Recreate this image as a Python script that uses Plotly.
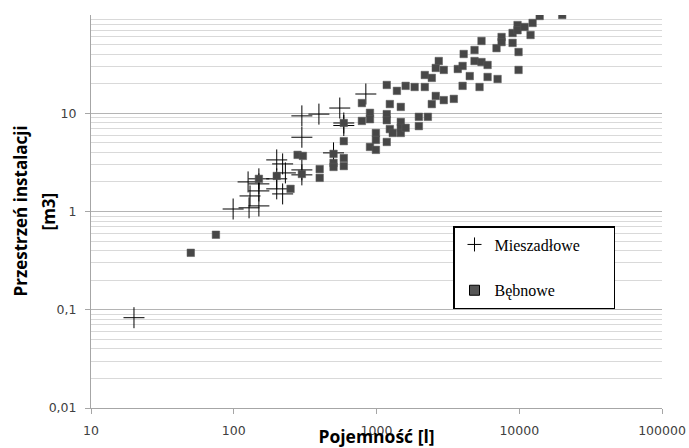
import plotly.graph_objects as go

# Mieszadłowe (crosses)
mix_x = [20, 99, 128, 150, 130, 150, 150, 126, 150, 200, 220, 230, 200, 200, 220,
         300, 300, 300, 300, 395, 500, 553, 590, 590, 842]
mix_y = [0.083, 1.06, 1.09, 1.14, 1.44, 1.62, 1.91, 2.0, 2.15, 3.35, 3.05, 2.47, 2.15, 1.7, 1.51,
         9.4, 5.7, 2.65, 2.36, 9.8, 3.95, 11.3, 7.96, 7.5, 15.7]

# Bębnowe (squares)
drum_x = [50, 75, 150, 200, 250, 280, 305, 300, 400, 400, 500, 500, 500, 590, 590, 590, 590,
          790, 790, 900, 900, 900, 990, 990, 990, 1180, 1180, 1180, 1180, 1240, 1240, 1300,
          1390, 1480, 1480, 1480, 1480, 1600, 1600, 1850, 1980, 1980, 2180, 2180, 2290, 2440,
          2440, 2600, 2600, 2730, 2960, 2960, 3480, 3710, 4010, 4010, 4080, 4500, 4860, 4860,
          5440, 5270, 5440, 6000, 6000, 6930, 7050, 7520, 7520, 8980, 8980, 9730, 9730, 9890,
          9890, 10900, 12000, 12400, 13900, 20000]
drum_y = [0.38, 0.58, 2.15, 2.3, 1.7, 3.77, 3.68, 2.41, 2.7, 2.2, 3.86, 3.12, 2.84, 5.2, 3.5, 2.9, 7.96,
          12.7, 8.35, 10.1, 8.7, 4.54, 6.3, 5.35, 4.24, 19.4, 9.8, 8.5, 5.1, 12.4, 6.9, 6.3,
          16.9, 11.6, 8.15, 7.1, 6.3, 19.0, 7.1, 18.5, 9.2, 7.4, 18.5, 24.5, 9.2, 22.9,
          12.4, 28.9, 15.0, 34.0, 27.6, 13.6, 14.0, 28.2, 30.3, 19.0, 40.1, 23.9, 44, 34,
          33.2, 18.5, 54.4, 31, 23.4, 46, 22.3, 59.7, 53, 65.6, 52, 79, 70, 42,
          27.6, 75.5, 62.6, 83, 97.7, 100]

x_ticks = [10, 100, 1000, 10000, 100000]
x_labels = ["10", "100", "1000", "10000", "100000"]
y_ticks = [0.01, 0.1, 1, 10]
y_labels = ["0,01", "0,1", "1", "10"]
y_minor = [m * d for d in [0.01, 0.1, 1, 10] for m in range(2, 10)]

PAD = "\u00a0" * 7
SQ_COLOR = "#474747"

fig = go.Figure()
fig.add_trace(go.Scatter(
    x=mix_x, y=mix_y, mode="markers", name="Mieszadłowe", showlegend=False,
    marker=dict(symbol="cross-thin", size=15, color="black",
                line=dict(color="black", width=1)),
))
fig.add_trace(go.Scatter(
    x=drum_x, y=drum_y, mode="markers", name="Bębnowe", showlegend=False,
    marker=dict(symbol="square", size=7.5, color=SQ_COLOR,
                line=dict(color="#5a5a5a", width=0.5)),
))
# legend entries
fig.add_trace(go.Scatter(
    x=[None], y=[None], mode="markers", name="Mieszadłowe" + PAD, legendgroup="a",
    marker=dict(symbol="cross-thin", size=10, color="black",
                line=dict(color="black", width=1)),
))
fig.add_trace(go.Scatter(
    x=[None], y=[None], mode="markers", name="Bębnowe", legendgroup="b",
    marker=dict(symbol="square", size=10, color="#555555",
                line=dict(color="black", width=1)),
))

tick_font = dict(family="DejaVu Sans", size=12.5, color="#404040")
fig.update_layout(
    width=689, height=448,
    margin=dict(l=91, r=27, t=15, b=40),
    paper_bgcolor="white", plot_bgcolor="white",
    showlegend=True,
    legend=dict(
        x=0.634, y=0.463, xanchor="left", yanchor="top",
        bordercolor="black", borderwidth=1.5, bgcolor="white",
        font=dict(family="Liberation Serif", size=16, color="black"),
        tracegroupgap=22,
    ),
    xaxis=dict(
        type="log", range=[1, 5], automargin=False,
        tickvals=x_ticks, ticktext=x_labels, tickfont=tick_font,
        showgrid=False, zeroline=False,
        showline=True, linecolor="#a6a6a6", linewidth=1,
        ticks="outside", ticklen=5, tickcolor="#a6a6a6",
        ticklabelstandoff=6,
        title=dict(text="<b>Pojemność [l]</b>",
                   font=dict(family="Open Sans", size=17.5, color="black"),
                   standoff=0),
    ),
    yaxis=dict(
        type="log", range=[-2, 2], automargin=False,
        tickvals=y_ticks, ticktext=y_labels, tickfont=tick_font,
        showgrid=True, gridcolor="#b4b4b4", gridwidth=1,
        zeroline=False,
        showline=True, linecolor="#a6a6a6", linewidth=1,
        ticks="outside", ticklen=5, tickcolor="#a6a6a6",
        ticklabelstandoff=6,
        minor=dict(tickvals=y_minor, showgrid=True, gridcolor="#d9d9d9",
                   gridwidth=1, ticks=""),
    ),
    annotations=[
        dict(text="<b>Przestrzeń instalacji</b>", textangle=-90,
             xref="paper", yref="paper", x=(20 - 91) / 571, y=0.5,
             xanchor="center", yanchor="middle", showarrow=False,
             font=dict(family="Open Sans", size=17, color="black")),
        dict(text="<b>[m3]</b>", textangle=-90,
             xref="paper", yref="paper", x=(48 - 91) / 571, y=0.5,
             xanchor="center", yanchor="middle", showarrow=False,
             font=dict(family="Open Sans", size=17, color="black")),
    ],
)

fig.write_html("out.html", config={"displayModeBar": False},
               post_script="document.body.style.margin='0';")
